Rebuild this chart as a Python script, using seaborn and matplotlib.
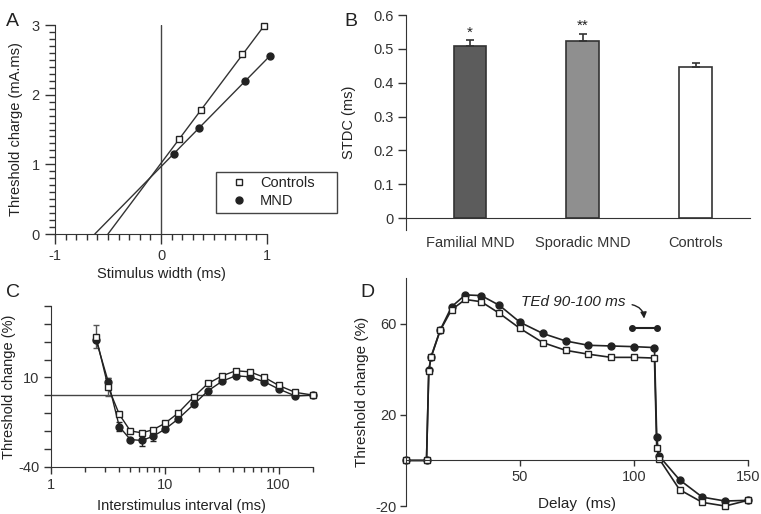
import numpy as np
import pandas as pd
import matplotlib
matplotlib.use("Agg")
import matplotlib.pyplot as plt
import matplotlib.ticker as mticker
from matplotlib.lines import Line2D
import seaborn as sns

sns.set_style("ticks")
plt.rcParams["font.family"] = ["Liberation Sans", "DejaVu Sans"]
plt.rcParams["font.size"] = 10
plt.rcParams["axes.unicode_minus"] = False
plt.rcParams["axes.edgecolor"] = "#333333"
plt.rcParams["xtick.color"] = "#333333"
plt.rcParams["ytick.color"] = "#333333"
plt.rcParams["text.color"] = "#222222"
plt.rcParams["axes.labelcolor"] = "#222222"

INK = "#222222"

# A: charge-duration
a_ctrl_width = [0.17, 0.38, 0.76, 0.975]
a_ctrl_charge = [1.36, 1.78, 2.58, 2.98]
a_mnd_width = [0.12, 0.355, 0.79, 1.03]
a_mnd_charge = [1.15, 1.52, 2.19, 2.56]

# B: strength-duration time constant
b_groups = ["Familial MND", "Sporadic MND", "Controls"]
b_stdc = [0.508, 0.524, 0.447]
b_sem = [0.017, 0.021, 0.011]
b_signif = ["*", "**", ""]
b_colors = ["#5c5c5c", "#8f8f8f", "#ffffff"]

# C: recovery cycle
c_isi = [2.5, 3.2, 4, 5, 6.3, 7.9, 10, 13, 18, 24, 32, 42, 56, 75, 100, 140, 200]
c_ctrl = [32.7, 4.4, -10.7, -20.0, -21.0, -19.3, -15.8, -10.2, -0.9, 6.6,
          10.9, 13.7, 13.1, 10.0, 5.5, 1.6, 0.1]
c_mnd = [31.0, 7.5, -17.6, -24.8, -25.3, -23.0, -19.1, -13.5, -5.1, 2.5,
         7.9, 10.9, 10.3, 7.5, 3.5, -0.4, 0.1]
c_ctrl_sem = [6.5, 5.0, 0, 0, 0, 0, 0, 0, 0, 0, 0, 0, 0, 0, 0, 0, 0]
c_mnd_sem = [0, 2.0, 2.5, 0, 3.0, 2.5, 0, 0, 0, 0, 0, 0, 0, 0, 0, 0, 0]

# D: threshold electrotonus (depolarising)
d_delay = [0, 9, 10, 11, 15, 20, 26, 33, 41, 50, 60, 70, 80, 90, 100, 109,
           110, 111, 120, 130, 140, 150]
d_ctrl = [0, 0, 39.3, 45.2, 57.0, 66.1, 70.6, 69.6, 64.5, 57.9, 51.7, 48.3,
          46.6, 45.2, 45.2, 44.9, 5.6, 0.8, -12.8, -18.4, -20.0, -17.5]
d_mnd = [0, 0, 39.5, 45.5, 57.2, 67.4, 72.6, 72.3, 68.0, 60.6, 55.7, 52.4,
         50.5, 50.2, 49.9, 49.5, 10.2, 2.0, -8.5, -16.1, -17.8, -17.5]

fig = plt.figure(figsize=(7.61, 5.14), dpi=100)
axA = fig.add_axes([0.0723, 0.5447, 0.2786, 0.4066])
axB = fig.add_axes([0.5335, 0.5525, 0.452, 0.4183])
axC = fig.add_axes([0.0666, 0.0920, 0.3447, 0.3128])
axD = fig.add_axes([0.5335, 0.0155, 0.4493, 0.4436])

sq = dict(marker="s", markersize=5, markerfacecolor="white",
          markeredgecolor=INK, markeredgewidth=1)
dot = dict(marker="o", markersize=5, markerfacecolor=INK,
           markeredgecolor=INK, markeredgewidth=1)

# ---- A ----
axA.axvline(0, color="#444444", lw=1)
for w, q in [(a_mnd_width, a_mnd_charge), (a_ctrl_width, a_ctrl_charge)]:
    slope, icpt = np.polyfit(w, q, 1)
    xs = np.array([-icpt / slope, max(w)])
    axA.plot(xs, slope * xs + icpt, color="#333333", lw=1)
sns.lineplot(x=a_mnd_width, y=a_mnd_charge, ax=axA, lw=0, clip_on=False, **dot)
sns.lineplot(x=a_ctrl_width, y=a_ctrl_charge, ax=axA, lw=0, clip_on=False, **sq)
axA.set_xlim(-1, 1)
axA.set_ylim(0, 3)
axA.set_xticks([-1, 0, 1])
axA.set_yticks([0, 1, 2, 3])
axA.xaxis.set_minor_locator(mticker.MultipleLocator(0.1))
axA.yaxis.set_minor_locator(mticker.MultipleLocator(0.1))
axA.tick_params(which="major", length=7, width=1, labelsize=10.5, pad=4)
axA.tick_params(which="minor", length=4.5, width=1)
sns.despine(ax=axA)
axA.set_xlabel("Stimulus width (ms)", fontsize=10.5, labelpad=3)
axA.set_ylabel("Threshold charge (mA.ms)", fontsize=10.5, labelpad=6)
handles = [Line2D([], [], lw=0, **sq), Line2D([], [], lw=0, **dot)]
leg = axA.legend(handles, ["Controls", "MND"], loc="upper left",
                 bbox_to_anchor=(0.758, 0.0, 0.571, 0.298), mode="expand",
                 borderaxespad=0, fancybox=False, framealpha=1,
                 edgecolor="#444444", fontsize=10.5, handletextpad=0.15,
                 borderpad=0.3, labelspacing=0.28, handlelength=2.6)
leg.get_frame().set_linewidth(1)

# ---- B ----
dfB = pd.DataFrame({"group": b_groups, "stdc": b_stdc})
sns.barplot(data=dfB, x="group", y="stdc", hue="group", palette=b_colors,
            edgecolor="#333333", linewidth=1.2, width=0.29, errorbar=None,
            legend=False, ax=axB)
axB.errorbar(range(len(b_groups)), b_stdc, yerr=[np.zeros(3), b_sem],
             fmt="none", ecolor="#333333", elinewidth=1.2, capsize=3,
             capthick=1.2, zorder=1)
for i, s in enumerate(b_signif):
    axB.text(i, b_stdc[i] + b_sem[i] + 0.002, s, ha="center", va="bottom",
             fontsize=11)
axB.set_xlim(-0.566, 2.48)
axB.set_ylim(-0.035, 0.6)
axB.set_yticks(np.arange(0, 0.61, 0.1))
axB.set_yticklabels(["0", "0.1", "0.2", "0.3", "0.4", "0.5", "0.6"])
axB.spines["bottom"].set_position(("data", 0))
sns.despine(ax=axB)
axB.tick_params(axis="x", length=0, labelsize=10.5, pad=13)
axB.tick_params(axis="y", length=6, width=1, labelsize=10.5, pad=3)
axB.set_xlabel("")
axB.set_ylabel("STDC (ms)", fontsize=10.5, labelpad=12)

# ---- C ----
axC.axhline(0, color="#444444", lw=1)
axC.errorbar(c_isi, c_mnd, yerr=c_mnd_sem, fmt="none", ecolor=INK,
             elinewidth=1, capsize=2)
axC.errorbar(c_isi, c_ctrl, yerr=c_ctrl_sem, fmt="none", ecolor="#555555",
             elinewidth=1, capsize=2)
sns.lineplot(x=c_isi, y=c_mnd, ax=axC, color=INK, lw=1, clip_on=False, **dot)
sns.lineplot(x=c_isi, y=c_ctrl, ax=axC, color=INK, lw=1, clip_on=False, **sq)
axC.set_xscale("log")
axC.set_xlim(1, 200)
axC.set_ylim(-40, 50)
axC.set_xticks([1, 10, 100])
axC.xaxis.set_major_formatter(mticker.FixedFormatter(["1", "10", "100"]))
axC.xaxis.set_minor_formatter(mticker.NullFormatter())
yt = list(range(-40, 51, 10))
axC.set_yticks(yt)
axC.set_yticklabels([str(v) if v in (-40, 10) else "" for v in yt])
axC.tick_params(which="major", length=5, width=1, labelsize=10.5, pad=3)
axC.tick_params(which="minor", length=3.5, width=1)
sns.despine(ax=axC)
axC.set_xlabel("Interstimulus interval (ms)", fontsize=10.5, labelpad=5)
axC.set_ylabel("Threshold change (%)", fontsize=10.5, labelpad=2)

# ---- D ----
sns.lineplot(x=d_delay, y=d_mnd, ax=axD, color=INK, lw=1.2, clip_on=False,
             sort=False, **dot)
sns.lineplot(x=d_delay, y=d_ctrl, ax=axD, color=INK, lw=1.2, clip_on=False,
             sort=False, **sq)
axD.set_xlim(0, 150)
axD.set_ylim(-20, 80)
axD.set_xticks([50, 100, 150])
axD.set_yticks([-20, 20, 60])
axD.spines["bottom"].set_position(("data", 0))
sns.despine(ax=axD)
axD.tick_params(length=4, width=1, labelsize=10.5, pad=3)
axD.set_xlabel("Delay  (ms)", fontsize=11)
axD.xaxis.set_label_coords(0.5, 0.04)
axD.set_ylabel("Threshold change (%)", fontsize=11, labelpad=4)
axD.text(73.5, 69.5, "TEd 90-100 ms", fontsize=11, style="italic",
         ha="center", va="center")
axD.plot([99, 110], [58, 58], color=INK, lw=1.5, marker="o", markersize=4,
         clip_on=False)
axD.annotate("", xy=(104.5, 61), xytext=(98.0, 68.5),
             arrowprops=dict(arrowstyle="-|>", color=INK, lw=1,
                             connectionstyle="arc3,rad=-0.45",
                             mutation_scale=9))

# panel letters
for lab, x, y in [("A", 0.008, 0.975), ("B", 0.452, 0.975),
                  ("C", 0.008, 0.448), ("D", 0.474, 0.448)]:
    fig.text(x, y, lab, fontsize=14, ha="left", va="top")

fig.savefig("out.png", dpi=100)
